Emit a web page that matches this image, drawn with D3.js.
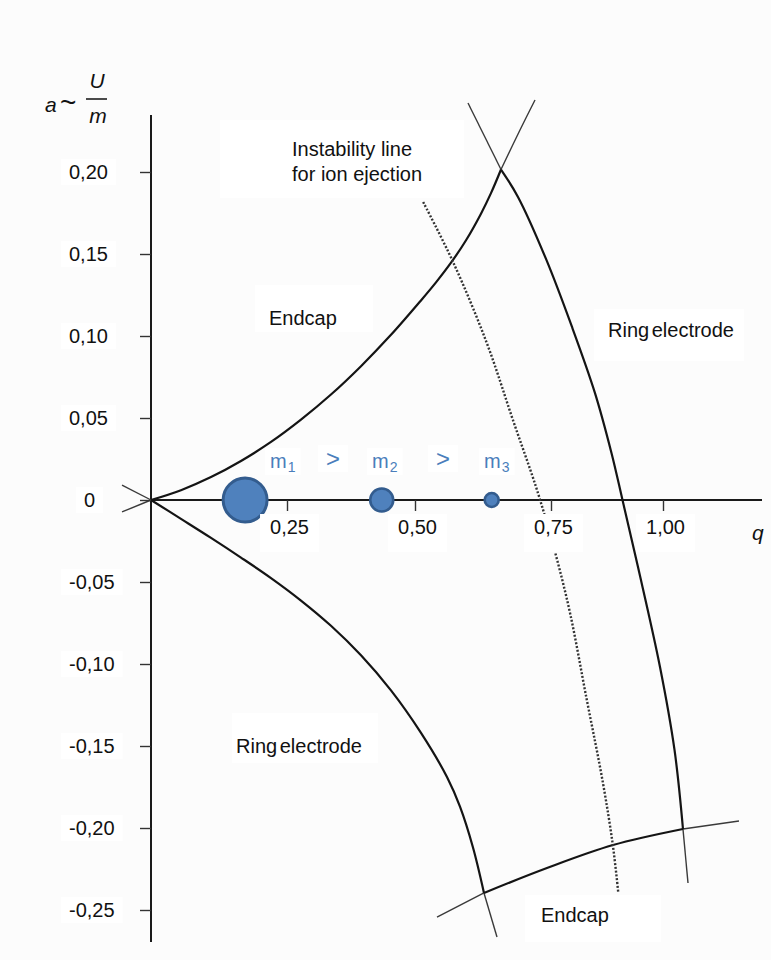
<!DOCTYPE html>
<html>
<head>
<meta charset="utf-8">
<script src="https://cdn.jsdelivr.net/npm/d3@7"></script>
<style>
  html, body { margin: 0; padding: 0; background: #fcfcfc; }
  svg { display: block; font-family: Arial, "Liberation Sans", sans-serif; }
</style>
</head>
<body>
<svg id="chart" width="771" height="960"></svg>
<script>
// ---- axis ticks ----
const qTicks = [0.25, 0.50, 0.75, 1.00];
const qTickLabels = ["0,25", "0,50", "0,75", "1,00"];
const aTicks = [0.20, 0.15, 0.10, 0.05, 0, -0.05, -0.10, -0.15, -0.20, -0.25];
const aTickLabels = ["0,20", "0,15", "0,10", "0,05", "0", "-0,05", "-0,10", "-0,15", "-0,20", "-0,25"];

// ---- stability boundaries, points as [q, a] ----
// endcap boundary from the origin up to the apex
const endcapUpper = [[0, 0], [0.0551, 0.0060], [0.1103, 0.0140], [0.1654, 0.0238], [0.2206, 0.0354],
  [0.2773, 0.0490], [0.3359, 0.0643], [0.3945, 0.0816], [0.4531, 0.1007], [0.5110, 0.1217],
  [0.5386, 0.1327], [0.5662, 0.1447], [0.5938, 0.1584], [0.6213, 0.1746], [0.6397, 0.1871],
  [0.6581, 0.2015]];
const endcapUpperTail = [[0.6581, 0.2015], [0.6930, 0.2256], [0.7206, 0.2439]];
const endcapUpperLead = [[-0.0533, -0.0073], [0, 0]];

// ring-electrode boundary from the origin downwards
const ringLower = [[0, 0], [0.0551, -0.0115], [0.1103, -0.0231], [0.1654, -0.0351], [0.2206, -0.0476],
  [0.2773, -0.0613], [0.3359, -0.0767], [0.3945, -0.0947], [0.4531, -0.1161], [0.5110, -0.1420],
  [0.5588, -0.1689], [0.5827, -0.1870], [0.6066, -0.2119], [0.6268, -0.2396]];
const ringLowerTail = [[0.6268, -0.2396], [0.6507, -0.2665]];
const ringLowerLead = [[-0.0533, 0.0091], [0, 0]];

// ring-electrode boundary on the right (through q = 0.908)
const ringRightLead = [[0.5974, 0.2421], [0.6581, 0.2015]];
const ringRight = [[0.6581, 0.2015], [0.6893, 0.1848], [0.7408, 0.1470], [0.7969, 0.1055], [0.8482, 0.0652],
  [0.8850, 0.0287], [0.9096, 0], [0.9442, -0.0409], [0.9933, -0.1018], [1.0257, -0.1524], [1.0446, -0.2006]];
const ringRightTail = [[1.0446, -0.2006], [1.0558, -0.2335]];

// endcap boundary at the bottom
const endcapLowerLead = [[0.5404, -0.2543], [0.6268, -0.2396]];
const endcapLower = [[0.6268, -0.2396], [0.7426, -0.2244], [0.8884, -0.2104], [1.0446, -0.2006]];
const endcapLowerTail = [[1.0446, -0.2006], [1.1696, -0.1957]];

// instability line used for ion ejection
const instabilityLine = [[0.515, 0.1817], [0.570, 0.1451], [0.632, 0.0957], [0.680, 0.0488], [0.730, 0],
  [0.786, -0.061], [0.830, -0.122], [0.866, -0.1726], [0.888, -0.2104], [0.900, -0.239]];

// ions on the q axis (a = 0)
const ionNames = ["m", "m", "m"];
const ionSubs = ["1", "2", "3"];
const ionQ = [0.173, 0.435, 0.641];

// ---- layout ----
const svg = d3.select("#chart");
const ionRadius = [22, 11.5, 7];
const ionStroke = [3, 2.6, 2.6];
const blue = "#4f81bd", blueDark = "#335c8e", blueText = "#4a7ebb";
const FONT = "Arial, 'Liberation Sans', sans-serif";

const x = d3.scaleLinear().domain([0, 0.25, 0.5, 0.75, 1.0]).range([151, 287, 415, 551, 663]);
const y = d3.scaleLinear().domain([-0.25, 0.20]).range([910, 172]);

const plot = svg.append("g");
const boxLayer = svg.append("g");
const axisLayer = svg.append("g");
const textLayer = svg.append("g");

// white panel behind a text block; pads = [left, top, right, bottom]
function boxed(sel, pads) {
  const b = sel.node().getBoundingClientRect();
  const s = svg.node().getBoundingClientRect();
  boxLayer.append("rect")
    .attr("x", b.left - s.left - pads[0]).attr("y", b.top - s.top - pads[1])
    .attr("width", b.width + pads[0] + pads[2]).attr("height", b.height + pads[1] + pads[3])
    .attr("fill", "#ffffff");
  return sel;
}

// ---- axis lines ----
plot.append("line").attr("x1", x(0)).attr("x2", x(0)).attr("y1", 115).attr("y2", 942)
  .attr("stroke", "#1a1a1a").attr("stroke-width", 2);
plot.append("line").attr("x1", x(0)).attr("x2", 762).attr("y1", y(0)).attr("y2", y(0))
  .attr("stroke", "#1a1a1a").attr("stroke-width", 2);

// ---- boundary curves ----
const line = d3.line().x(d => x(d[0])).y(d => y(d[1])).curve(d3.curveCatmullRom.alpha(0.5));
const thin = [endcapUpperTail, endcapUpperLead, ringLowerTail, ringLowerLead,
  ringRightLead, ringRightTail, endcapLowerLead, endcapLowerTail];
const thick = [endcapUpper, ringLower, ringRight, endcapLower];

plot.selectAll("path.thin").data(thin).join("path").attr("class", "thin")
  .attr("d", line).attr("fill", "none").attr("stroke", "#3a3a3a").attr("stroke-width", 1.4);
plot.selectAll("path.thick").data(thick).join("path").attr("class", "thick")
  .attr("d", line).attr("fill", "none").attr("stroke", "#141414").attr("stroke-width", 2.2);

plot.append("path").datum(instabilityLine).attr("d", line)
  .attr("fill", "none").attr("stroke", "#333").attr("stroke-width", 2.4)
  .attr("stroke-dasharray", "2 1.8");

// ---- ions ----
plot.selectAll("circle.ion").data(ionQ).join("circle").attr("class", "ion")
  .attr("cx", d => x(d)).attr("cy", y(0))
  .attr("r", (d, i) => ionRadius[i])
  .attr("fill", blue).attr("stroke", blueDark)
  .attr("stroke-width", (d, i) => ionStroke[i]);

// ---- axes ----
const yAxis = d3.axisLeft(y).tickValues(aTicks).tickSize(11).tickPadding(0)
  .tickFormat((d, i) => aTickLabels[i]);
const gy = axisLayer.append("g").attr("transform", `translate(${x(0)},0)`).call(yAxis);
gy.select(".domain").remove();
gy.selectAll(".tick line").attr("stroke", "#333").attr("stroke-width", 1.4);
gy.selectAll(".tick text")
  .attr("text-anchor", "start")
  .attr("x", d => d === 0 ? -67 : -82)
  .attr("dy", "0.33em")
  .attr("font-size", 20).attr("font-family", FONT).attr("fill", "#111");

const xAxis = d3.axisBottom(x).tickValues(qTicks).tickSize(11).tickPadding(0)
  .tickFormat((d, i) => qTickLabels[i]);
const gx = axisLayer.append("g").attr("transform", `translate(0,${y(0)})`).call(xAxis);
gx.select(".domain").remove();
gx.selectAll(".tick line").attr("stroke", "#333").attr("stroke-width", 1.4);
gx.selectAll(".tick text")
  .attr("y", 34).attr("dy", null).attr("dx", 2)
  .attr("font-size", 20).attr("font-family", FONT).attr("fill", "#111");
gx.selectAll(".tick text").each(function () { boxed(d3.select(this), [10, 2, 10, 14]); });
gy.selectAll(".tick text").each(function () { boxed(d3.select(this), [8, 2, 8, 2]); });

// ---- m1 > m2 > m3 ----
const ionLabelX = [270, 372, 484];
ionLabelX.forEach((lx, i) => {
  const t = textLayer.append("text").attr("x", lx).attr("y", 468)
    .attr("fill", blueText).attr("font-size", 20);
  t.append("tspan").text(ionNames[i]);
  t.append("tspan").attr("font-size", 14).attr("dy", 4).attr("dx", 1).text(ionSubs[i]);
  boxed(t, [5, 2, 5, 0]);
});
[326, 436].forEach(gxp => {
  const t = textLayer.append("text").attr("x", gxp).attr("y", 467)
    .attr("fill", blueText).attr("font-size", 24).text(">");
  boxed(t, [8, 0, 8, 0]);
});

// ---- region labels ----
function label(txt, lx, ly, pads) {
  const t = textLayer.append("text").attr("x", lx).attr("y", ly)
    .attr("font-size", 20).attr("fill", "#111").attr("word-spacing", -3).text(txt);
  boxed(t, pads);
  return t;
}
const inst = textLayer.append("text").attr("font-size", 20).attr("fill", "#111");
inst.append("tspan").attr("x", 292).attr("y", 156).text("Instability line");
inst.append("tspan").attr("x", 292).attr("y", 181).text("for ion ejection");
boxed(inst, [72, 18, 42, 13]);

label("Endcap", 269, 325, [14, 22, 36, 3]);
label("Ring electrode", 608, 337, [14, 10, 10, 20]);
label("Ring electrode", 236, 753, [4, 22, 16, 6]);
label("Endcap", 541, 922, [16, 9, 52, 16]);

// q axis title
textLayer.append("text").attr("x", 752).attr("y", 540)
  .attr("font-size", 21).attr("font-style", "italic").attr("fill", "#111").text("q");

// a ~ U/m axis title
const at = textLayer.append("g").attr("fill", "#111");
at.append("text").attr("x", 45).attr("y", 112).attr("font-size", 21).attr("font-style", "italic").text("a");
at.append("text").attr("x", 60).attr("y", 112).attr("font-size", 28).text("~");
at.append("text").attr("x", 97).attr("y", 88).attr("text-anchor", "middle")
  .attr("font-size", 21).attr("font-style", "italic").text("U");
at.append("line").attr("x1", 86).attr("x2", 107).attr("y1", 99).attr("y2", 99)
  .attr("stroke", "#111").attr("stroke-width", 1.5);
at.append("text").attr("x", 98).attr("y", 123).attr("text-anchor", "middle")
  .attr("font-size", 21).attr("font-style", "italic").text("m");
</script>
</body>
</html>
